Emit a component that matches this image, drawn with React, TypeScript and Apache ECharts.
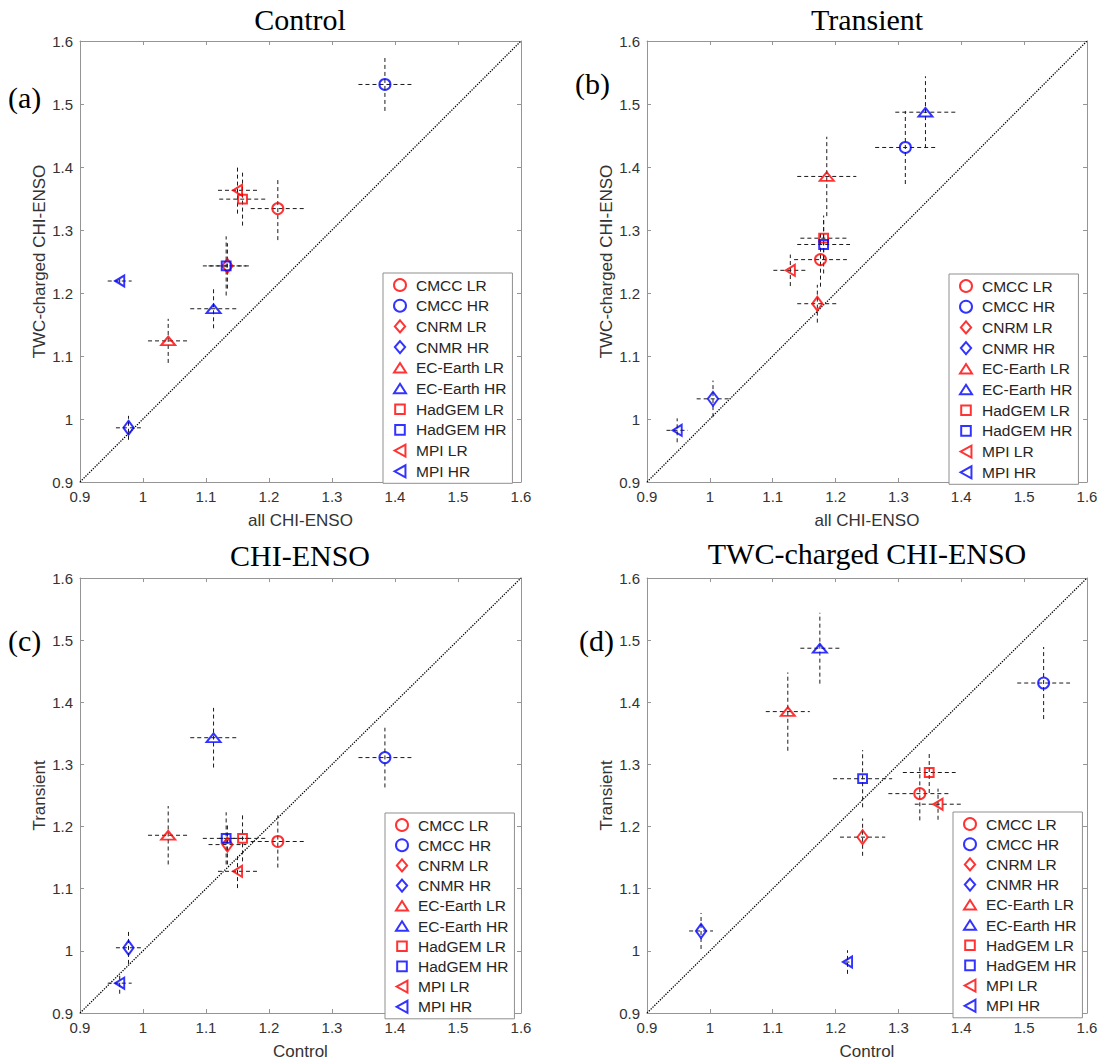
import React, { useEffect, useRef } from 'react';
import * as echarts from 'echarts';

// ---- data ----
const models = ['CMCC LR', 'CMCC HR', 'CNRM LR', 'CNMR HR', 'EC-Earth LR', 'EC-Earth HR', 'HadGEM LR', 'HadGEM HR', 'MPI LR', 'MPI HR'];

// Control run, all CHI-ENSO
const ctrlAll = [1.214, 1.384, 1.134, 0.977, 1.040, 1.112, 1.158, 1.132, 1.150, 0.963];
const ctrlAllErr = [0.043, 0.042, 0.030, 0.020, 0.032, 0.037, 0.037, 0.037, 0.031, 0.019];
// Control run, TWC-charged CHI-ENSO
const ctrlTWC = [1.334, 1.531, 1.243, 0.986, 1.124, 1.175, 1.349, 1.243, 1.363, 1.219];
const ctrlTWCErr = [0.050, 0.042, 0.036, 0.019, 0.035, 0.031, 0.042, 0.047, 0.037, 0.003];
// Transient run, all CHI-ENSO
const transAll = [1.176, 1.311, 1.171, 1.005, 1.186, 1.343, 1.181, 1.181, 1.128, 0.948];
const transAllErr = [0.042, 0.048, 0.032, 0.026, 0.047, 0.048, 0.037, 0.042, 0.027, 0.017];
// Transient run, TWC-charged CHI-ENSO
const transTWC = [1.253, 1.431, 1.183, 1.032, 1.385, 1.487, 1.287, 1.277, 1.236, 0.982];
const transTWCErr = [0.043, 0.058, 0.030, 0.029, 0.063, 0.057, 0.033, 0.046, 0.025, 0.019];

const panelTitles = ['Control', 'Transient', 'CHI-ENSO', 'TWC-charged CHI-ENSO'];
const panelTags = ['(a)', '(b)', '(c)', '(d)'];
const xNames = ['all CHI-ENSO', 'all CHI-ENSO', 'Control', 'Control'];
const yNames = ['TWC-charged CHI-ENSO', 'TWC-charged CHI-ENSO', 'Transient', 'Transient'];
const axisMin = 0.9;
const axisMax = 1.6;
const axisStep = 0.1;

// ---- layout / style ----
const panels = [
  { x: ctrlAll, xe: ctrlAllErr, y: ctrlTWC, ye: ctrlTWCErr },
  { x: transAll, xe: transAllErr, y: transTWC, ye: transTWCErr },
  { x: ctrlAll, xe: ctrlAllErr, y: transAll, ye: transAllErr },
  { x: ctrlTWC, xe: ctrlTWCErr, y: transTWC, ye: transTWCErr },
];
const grids = [
  { left: 80, top: 41, width: 441, height: 441 },
  { left: 647, top: 41, width: 440, height: 441 },
  { left: 80, top: 578, width: 441, height: 435 },
  { left: 647, top: 578, width: 440, height: 435 },
];
const legendPos = [
  { left: 383, top: 273, gap: 4.7 },
  { left: 949, top: 274, gap: 4.7 },
  { left: 385, top: 813, gap: 4.2 },
  { left: 953, top: 812, gap: 4.2 },
];
const titlePos = [
  { x: 300, y: 19 },
  { x: 867, y: 19 },
  { x: 300, y: 555 },
  { x: 867, y: 553 },
];
const tagPos = [
  { x: 8, y: 97 },
  { x: 575, y: 83 },
  { x: 8, y: 640 },
  { x: 579, y: 640 },
];

const RED = '#ff0000';
const BLUE = '#0000ff';
const SANS = '"Liberation Sans", Arial, Helvetica, sans-serif';
const SERIF = '"Liberation Serif", "Times New Roman", Times, serif';
const AXIS_COLOR = '#959595';
const TEXT_COLOR = '#333333';

const markerDefs = [
  { symbol: 'circle', size: [11, 11] },
  { symbol: 'path://M6,0L12,7L6,14L0,7Z', size: [12, 14] },
  { symbol: 'path://M7,0L14,11L0,11Z', size: [14, 11] },
  { symbol: 'path://M0,0M10,10M1,1L9,1L9,9L1,9Z', size: [11, 11] },
  { symbol: 'path://M0,5.5L10,0L10,11Z', size: [10, 11] },
];

function buildOption() {
  const xAxis: any[] = [];
  const yAxis: any[] = [];
  const series: any[] = [];

  const common = (gridIndex: number) => ({
    type: 'value',
    gridIndex,
    min: axisMin,
    max: axisMax,
    interval: axisStep,
    splitLine: { show: false },
    axisLine: { show: true, onZero: false, lineStyle: { color: AXIS_COLOR, width: 1 } },
    axisTick: { show: true, inside: true, length: 4, lineStyle: { color: AXIS_COLOR, width: 1 } },
  });

  for (let p = 0; p < 4; p++) {
    xAxis.push({
      ...common(p),
      position: 'bottom',
      name: xNames[p],
      nameLocation: 'middle',
      nameGap: 30,
      nameTextStyle: { fontFamily: SANS, fontSize: 17, color: TEXT_COLOR },
      axisLabel: { show: true, fontFamily: SANS, fontSize: 15, color: TEXT_COLOR, margin: 7 },
    });
    yAxis.push({
      ...common(p),
      position: 'left',
      name: yNames[p],
      nameLocation: 'middle',
      nameGap: 30,
      nameTextStyle: { fontFamily: SANS, fontSize: 17, color: TEXT_COLOR },
      axisLabel: { show: true, fontFamily: SANS, fontSize: 15, color: TEXT_COLOR, margin: 7 },
    });
  }
  for (let p = 0; p < 4; p++) {
    xAxis.push({ ...common(p), position: 'top', axisLabel: { show: false } });
    yAxis.push({ ...common(p), position: 'right', axisLabel: { show: false } });
  }

  for (let p = 0; p < 4; p++) {
    const pd = panels[p];
    // 1:1 diagonal
    series.push({
      type: 'line',
      xAxisIndex: p,
      yAxisIndex: p,
      data: [[axisMin, axisMin], [axisMax, axisMax]],
      symbol: 'none',
      silent: true,
      lineStyle: { color: '#000', width: 1.3, type: [1.3, 1.3] },
      z: 1,
    });
    // error bars
    series.push({
      type: 'custom',
      xAxisIndex: p,
      yAxisIndex: p,
      silent: true,
      z: 2,
      encode: { x: 0, y: 1 },
      data: models.map((_, m) => [pd.x[m], pd.y[m], pd.xe[m], pd.ye[m]]),
      renderItem: (_params: any, api: any) => {
        const x = api.value(0);
        const y = api.value(1);
        const xe = api.value(2);
        const ye = api.value(3);
        const l = api.coord([x - xe, y]);
        const r = api.coord([x + xe, y]);
        const b = api.coord([x, y - ye]);
        const t = api.coord([x, y + ye]);
        const style = { stroke: '#1a1a1a', lineWidth: 1, lineDash: [4, 3], fill: null };
        return {
          type: 'group',
          children: [
            { type: 'line', shape: { x1: l[0], y1: l[1], x2: r[0], y2: r[1] }, style },
            { type: 'line', shape: { x1: b[0], y1: b[1], x2: t[0], y2: t[1] }, style },
          ],
        };
      },
    });
    // markers
    models.forEach((name, m) => {
      const def = markerDefs[Math.floor(m / 2)];
      const col = m % 2 === 0 ? RED : BLUE;
      series.push({
        type: 'scatter',
        name,
        xAxisIndex: p,
        yAxisIndex: p,
        data: [[pd.x[m], pd.y[m]]],
        symbol: def.symbol,
        symbolSize: def.size,
        symbolKeepAspect: true,
        silent: true,
        z: 3,
        itemStyle: { color: 'rgba(0,0,0,0)', borderColor: col, borderWidth: 2 },
        emphasis: { disabled: true },
      });
    });
  }

  const legend = legendPos.map((lp) => ({
    data: models,
    orient: 'vertical',
    left: lp.left,
    top: lp.top,
    itemWidth: 12,
    itemHeight: 12,
    itemGap: lp.gap,
    padding: [4, 6, 4, 10],
    borderColor: '#8f8f8f',
    borderWidth: 1,
    backgroundColor: '#ffffff',
    selectedMode: false,
    textStyle: { fontFamily: SANS, fontSize: 15.5, color: '#262626', padding: [0, 0, 0, 5] },
  }));

  const graphic: any[] = [];
  panelTitles.forEach((t, i) => {
    graphic.push({
      type: 'text',
      x: titlePos[i].x,
      y: titlePos[i].y,
      silent: true,
      style: {
        text: t,
        font: `30px ${SERIF}`,
        fill: '#000',
        textAlign: 'center',
        align: 'center',
        textVerticalAlign: 'middle',
        verticalAlign: 'middle',
      },
    });
  });
  panelTags.forEach((t, i) => {
    graphic.push({
      type: 'text',
      x: tagPos[i].x,
      y: tagPos[i].y,
      silent: true,
      style: {
        text: t,
        font: `30px ${SERIF}`,
        fill: '#000',
        textAlign: 'left',
        align: 'left',
        textVerticalAlign: 'middle',
        verticalAlign: 'middle',
      },
    });
  });

  return {
    animation: false,
    backgroundColor: '#ffffff',
    grid: grids.map((g) => ({ ...g, containLabel: false, show: false })),
    xAxis,
    yAxis,
    legend,
    graphic,
    series,
  };
}

export default function App() {
  const ref = useRef<HTMLDivElement>(null);
  useEffect(() => {
    if (!ref.current) return;
    const chart = echarts.init(ref.current, undefined, { renderer: 'svg' });
    chart.setOption(buildOption() as any);
    return () => chart.dispose();
  }, []);
  return (
    <div
      ref={ref}
      style={{ position: 'fixed', left: 0, top: 0, width: 1104, height: 1061, background: '#fff' }}
    />
  );
}
